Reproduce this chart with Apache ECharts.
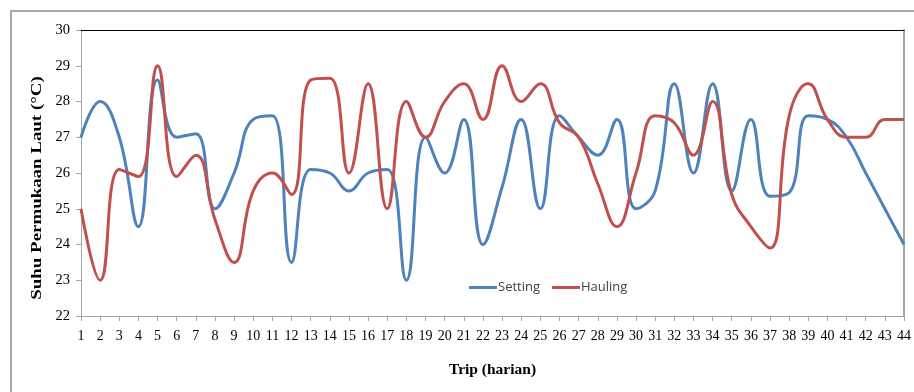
<!DOCTYPE html>
<html>
<head>
<meta charset="utf-8">
<script src="https://cdn.jsdelivr.net/npm/echarts@6/dist/echarts.min.js"></script>
<style>
  html, body { margin: 0; padding: 0; background: #fff; }
  #chart { width: 914px; height: 392px; }
</style>
</head>
<body>
<div id="chart"></div>
<script>
// Trip days 1..44
const trips = ['1','2','3','4','5','6','7','8','9','10','11','12','13','14','15','16','17','18','19','20','21','22',
  '23','24','25','26','27','28','29','30','31','32','33','34','35','36','37','38','39','40','41','42','43','44'];

// Sea surface temperature (°C) at setting
const settingTemp = [27.0, 28.0, 27.0, 24.5, 28.6, 27.0, 27.1, 25.0, 26.0, 27.5, 27.6, 23.5, 26.1, 26.0, 25.5,
  26.0, 26.1, 23.0, 27.0, 26.0, 27.5, 24.0, 25.6, 27.5, 25.0, 27.6, 27.0, 26.5, 27.5, 25.0, 25.5, 28.5, 26.0, 28.5,
  25.5, 27.5, 25.35, 25.45, 27.6, 27.5, 27.0, 26.0, 25.0, 24.0];

// Sea surface temperature (°C) at hauling
const haulingTemp = [25.0, 23.0, 26.1, 25.9, 29.0, 25.9, 26.5, 24.7, 23.5, 25.5, 26.0, 25.4, 28.6, 28.65, 26.0,
  28.5, 25.0, 28.0, 27.0, 28.0, 28.5, 27.5, 29.0, 28.0, 28.5, 27.4, 27.0, 25.7, 24.5, 26.0, 27.6, 27.4, 26.5, 28.0,
  25.4, 24.5, 23.9, 27.6, 28.5, 27.5, 27.0, 27.0, 27.5, 27.5];

const yMin = 22, yMax = 30, yStep = 1;
const yTitle = 'Suhu Permukaan Laut (°C)';
const xTitle = 'Trip (harian)';

const serif = '"Liberation Serif", "Times New Roman", serif';
const chart = echarts.init(document.getElementById('chart'), null, { renderer: 'canvas' });

chart.setOption({
  animation: false,
  backgroundColor: '#ffffff',
  graphic: [{
    // outer chart frame
    type: 'rect',
    shape: { x: 11, y: 11, width: 930, height: 400 },
    style: { fill: 'none', stroke: '#8c8c8c', lineWidth: 1.5 },
    silent: true,
    z: -1
  }, {
    // vertical axis title, drawn slightly stretched along its length
    type: 'text',
    x: 37, y: 188,
    rotation: Math.PI / 2,
    scaleX: 1.26,
    style: {
      text: yTitle,
      font: 'bold 15px ' + serif,
      fill: '#000',
      align: 'center',
      verticalAlign: 'middle'
    },
    silent: true
  }],
  grid: { left: 81, right: 4, top: 30, bottom: 76, containLabel: false },
  legend: {
    data: ['Setting', 'Hauling'],
    left: 464, top: 276,
    icon: 'rect', itemWidth: 28, itemHeight: 3, itemGap: 12,
    textStyle: { fontFamily: '"Open Sans", "Noto Sans", sans-serif', fontSize: 13, color: '#404040', padding: [0, 0, 0, -4] }
  },
  xAxis: [{
    type: 'category', data: trips, boundaryGap: false,
    name: xTitle, nameLocation: 'middle', nameGap: 46,
    nameTextStyle: { fontFamily: serif, fontWeight: 'bold', fontSize: 15.5, color: '#000' },
    axisLine: { lineStyle: { color: '#a6a6a6', width: 1 } },
    axisTick: { show: true, length: 5, lineStyle: { color: '#a6a6a6' } },
    axisLabel: { fontFamily: serif, fontSize: 14, color: '#000', margin: 13, interval: 0 },
    splitLine: { show: false }
  }, {
    type: 'category', data: trips, boundaryGap: false, position: 'top',
    axisLine: { lineStyle: { color: '#000', width: 1.2 } },
    axisTick: { show: false }, axisLabel: { show: false }, splitLine: { show: false }
  }],
  yAxis: [{
    type: 'value', min: yMin, max: yMax, interval: yStep,
    axisLine: { show: true, lineStyle: { color: '#a6a6a6', width: 1 } },
    axisTick: { show: true, length: 5, lineStyle: { color: '#a6a6a6' } },
    axisLabel: { fontFamily: serif, fontSize: 14.5, color: '#000', margin: 11 },
    splitLine: { show: false }
  }, {
    type: 'value', min: yMin, max: yMax, interval: yStep, position: 'right',
    axisLine: { show: true, lineStyle: { color: '#a6a6a6', width: 2 } },
    axisTick: { show: false }, axisLabel: { show: false }, splitLine: { show: false }
  }],
  series: [{
    name: 'Setting', type: 'line', data: settingTemp, smooth: 0.45,
    symbol: 'none', color: '#4f81bd',
    lineStyle: { width: 3, color: '#4f81bd' }
  }, {
    name: 'Hauling', type: 'line', data: haulingTemp, smooth: 0.45,
    symbol: 'none', color: '#c0504d',
    lineStyle: { width: 3, color: '#c0504d' }
  }]
});
</script>
</body>
</html>
